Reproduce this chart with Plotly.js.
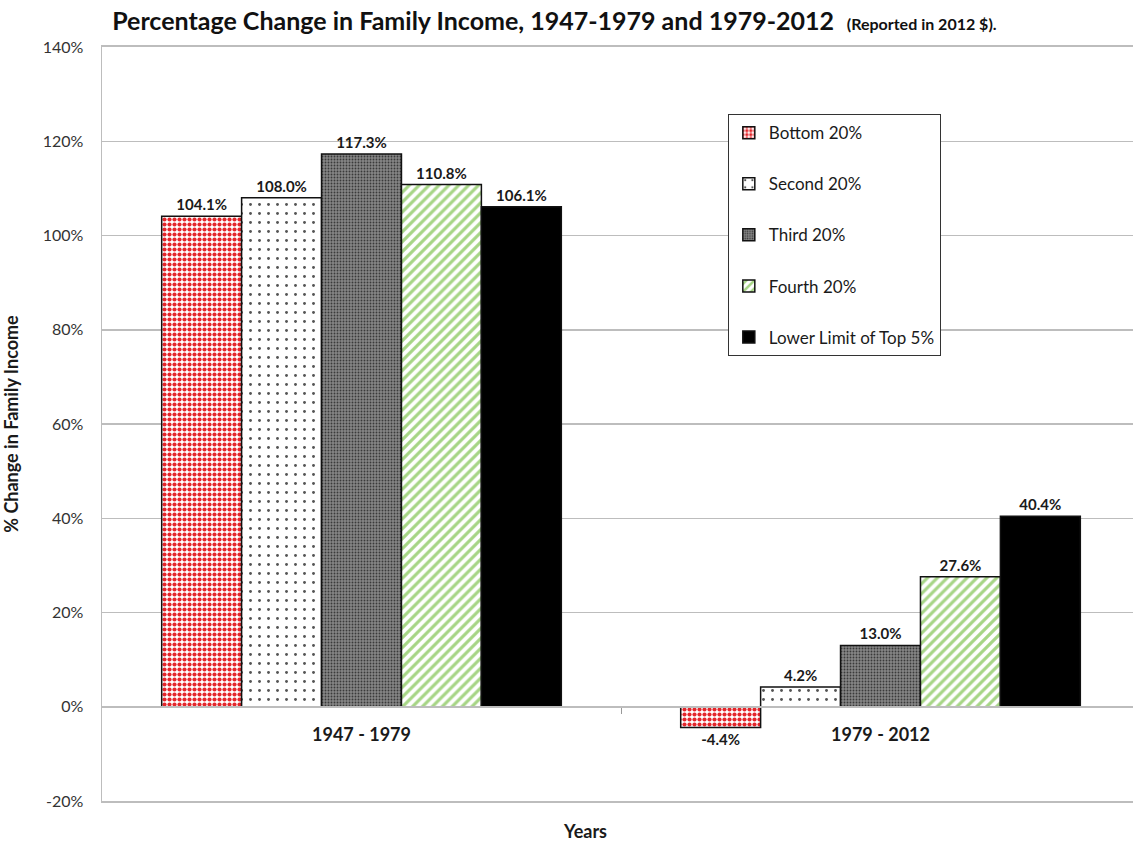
<!DOCTYPE html>
<html>
<head>
<meta charset="utf-8">
<script src="https://cdn.plot.ly/plotly-3.0.1.min.js"></script>
<style>html,body{margin:0;padding:0;background:#fff;}#chart{width:1133px;height:842px;}</style>
</head>
<body>
<div id="chart"></div>
<script>
const periods = ["1947 - 1979", "1979 - 2012"];
const seriesNames = ["Bottom 20%", "Second 20%", "Third 20%", "Fourth 20%", "Lower Limit of Top 5%"];
const bottom20 = [104.1, -4.4];
const second20 = [108.0, 4.2];
const third20 = [117.3, 13.0];
const fourth20 = [110.8, 27.6];
const top5Lower = [106.1, 40.4];
const yTicks = [-20, 0, 20, 40, 60, 80, 100, 120, 140];

const seriesValues = [bottom20, second20, third20, fourth20, top5Lower];
const patterns = [
  {shape: ".", fgcolor: "#e4262b", bgcolor: "#ffffff", size: 5, solidity: 0.55},
  {shape: ".", fgcolor: "#555555", bgcolor: "#ffffff", size: 9, solidity: 0.08},
  {shape: ".", fgcolor: "#3a3a3a", bgcolor: "#858585", size: 3, solidity: 0.3},
  {shape: "/", fgcolor: "#a6d585", bgcolor: "#ffffff", size: 7, solidity: 0.45},
  {shape: "", fgcolor: "#000000", bgcolor: "#000000"}
];
const fills = ["#ffffff", "#ffffff", "#858585", "#ffffff", "#000000"];
const xIdx = periods.map((p, i) => i);
const FONT = "Lato, 'Open Sans', sans-serif";
const XRANGE = [-0.5, 1.4865];

const traces = seriesValues.map((vals, k) => ({
  type: "bar",
  name: seriesNames[k],
  x: xIdx,
  y: vals,
  text: vals.map(v => v.toFixed(1) + "%"),
  textposition: "outside",
  cliponaxis: false,
  textfont: {family: FONT, size: 15, color: "#1a1a1a", weight: "bold"},
  marker: {
    color: fills[k],
    pattern: patterns[k],
    line: {color: "#111111", width: 1.5}
  },
  legendgroup: "g" + k,
  hoverinfo: "skip"
}));

const frameAxis = side => ({
  range: XRANGE,
  overlaying: "x",
  anchor: "y",
  side: side,
  showline: true,
  linecolor: "#bdbdbd",
  linewidth: 2,
  showgrid: false,
  zeroline: false,
  showticklabels: false,
  ticks: "",
  fixedrange: true
});

const layout = {
  width: 1133,
  height: 842,
  paper_bgcolor: "#ffffff",
  plot_bgcolor: "#ffffff",
  margin: {l: 102, r: 0, t: 47, b: 41},
  font: {family: FONT, color: "#222222"},
  title: {
    text: "<b>Percentage Change in Family Income, 1947-1979 and 1979-2012</b>  <b><span style='font-size:16px'>(Reported in 2012 $).</span></b>",
    font: {size: 25, color: "#111111", family: FONT},
    x: 0.099, xanchor: "left", xref: "container",
    y: 0.975, yanchor: "middle"
  },
  barmode: "group",
  bargap: 0.23,
  bargroupgap: 0,
  showlegend: true,
  legend: {
    x: 0.607, xanchor: "left",
    y: 0.911, yanchor: "top",
    bordercolor: "#333333", borderwidth: 1,
    bgcolor: "#ffffff",
    traceorder: "grouped",
    tracegroupgap: 26,
    font: {size: 17, color: "#1a1a1a", family: FONT},
    itemwidth: 30
  },
  xaxis: {
    range: XRANGE,
    tickmode: "array",
    tickvals: xIdx,
    ticktext: periods.map(p => "<b>" + p + "</b>"),
    tickfont: {size: 18, color: "#1a1a1a"},
    ticks: "",
    showgrid: false,
    zeroline: false,
    showline: true,
    linecolor: "#bdbdbd",
    linewidth: 2,
    anchor: "free",
    position: 0.125,
    ticklabelstandoff: 12,
    minor: {tickvals: [0.5], ticks: "outside", ticklen: 6, tickcolor: "#999999", tickwidth: 1},
    fixedrange: true
  },
  xaxis2: frameAxis("top"),
  xaxis3: frameAxis("bottom"),
  yaxis: {
    range: [-20, 140],
    tickmode: "array",
    tickvals: yTicks,
    ticktext: yTicks.map(v => v + "%"),
    tickfont: {size: 16, color: "#333333"},
    ticks: "",
    ticklabelstandoff: 14,
    showgrid: true,
    gridcolor: "#bdbdbd",
    gridwidth: 1.5,
    zeroline: false,
    showline: true,
    linecolor: "#bdbdbd",
    linewidth: 1.5,
    title: {text: "<b>% Change in Family Income</b>", font: {size: 18, color: "#1a1a1a"}, standoff: 20},
    fixedrange: true
  },
  annotations: [{
    text: "<b>Years</b>",
    xref: "paper", yref: "paper",
    x: 0.468, y: -0.04, xanchor: "center", yanchor: "middle",
    showarrow: false,
    font: {size: 18, color: "#1a1a1a"}
  }]
};

const frameTop = {type: "scatter", x: [], y: [], xaxis: "x2", yaxis: "y", showlegend: false, hoverinfo: "skip"};
const frameBottom = {type: "scatter", x: [], y: [], xaxis: "x3", yaxis: "y", showlegend: false, hoverinfo: "skip"};

Plotly.newPlot("chart", traces.concat([frameTop, frameBottom]), layout, {displayModeBar: false, staticPlot: true});
</script>
</body>
</html>
